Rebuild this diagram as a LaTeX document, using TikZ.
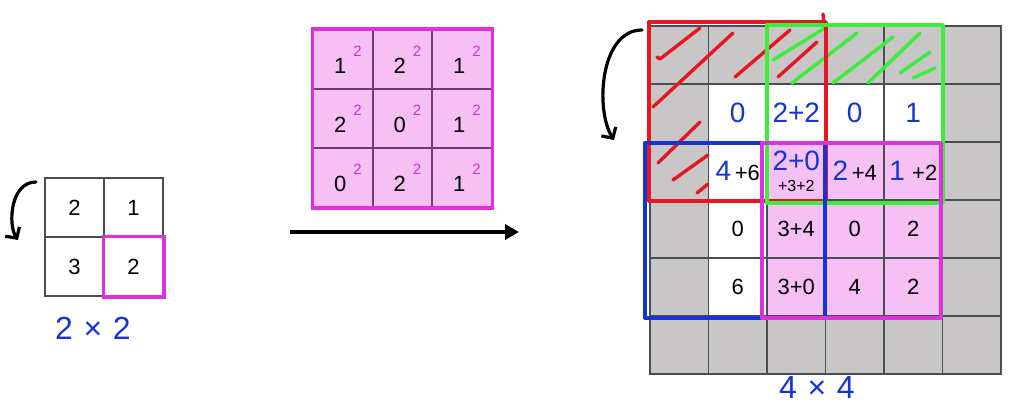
\documentclass[tikz,border=0pt]{standalone}
\usepackage{fontspec}
\setmainfont{Liberation Sans}
\usetikzlibrary{arrows.meta, positioning}
\definecolor{cellgrey}{RGB}{200,198,198}
\definecolor{gridline}{RGB}{72,78,84}
\definecolor{cellpink}{RGB}{246,192,244}
\definecolor{boxmagenta}{RGB}{222,48,222}
\definecolor{supmagenta}{RGB}{204,52,204}
\definecolor{innerpurple}{RGB}{110,60,110}
\definecolor{penred}{RGB}{230,22,34}
\definecolor{pengreen}{RGB}{60,238,60}
\definecolor{penblue}{RGB}{22,52,210}
\newcommand{\numfont}{\fontsize{22}{25}\selectfont}
\newcommand{\handfont}{\fontsize{28}{30}\selectfont}
\newcommand{\sqd}[1]{#1\hspace{7pt}\textcolor{supmagenta}{\raisebox{17pt}{\fontsize{15}{15}\selectfont 2}}}

\begin{document}
\begin{tikzpicture}[x=1pt, y=-1pt,
  >={Triangle[length=14pt, width=15pt]},
  cell/.style={draw=gridline, line width=1.6pt, inner sep=0pt,
               minimum width=58.5pt, minimum height=58pt, font=\numfont},
  kcell/.style={cell, minimum width=59pt, minimum height=59pt},
  icell/.style={cell, draw=innerpurple, fill=cellpink,
                minimum width=59.5pt, minimum height=59pt},
  num/.style={font=\numfont, inner sep=0pt},
  hand/.style={text=penblue, font=\handfont, inner sep=0pt},
  pen/.style={line width=3.4pt, line cap=round, line join=round},
  arr/.style={black, line width=3.5pt, ->},
  curv/.style={black, line width=3.2pt, line cap=round,
               -{Straight Barb[length=8pt, width=17pt]}}
]
  \useasboundingbox (0,0) rectangle (1032,412);

  % kernel 2x2
  \node[kcell] (k11) at (74.5,207.5) {2};
  \node[kcell] (k12) at (133.5,207.5) {1};
  \node[kcell] (k21) at (74.5,266.5) {3};
  \node[kcell] (k22) at (133.5,266.5) {2};
  \draw[boxmagenta, line width=3.4pt] (k22.north west) rectangle (k22.south east);
  \coordinate (kflipA) at (36,182);
  \coordinate (kflipB) at (18,240);
  \draw[curv] (kflipA) .. controls (10,182) and (8,225) .. (kflipB);
  \node[hand, font=\fontsize{32}{34}\selectfont] (kdim) at (93,328) {2\,\,×\,\,2};

  % input 3x3
  \foreach \r/\row in {0/{1,2,1},1/{2,0,1},2/{0,2,1}}
    \foreach \v [count=\c from 0] in \row
      \node[icell] (sq\r\c) at ({343+59.5*\c},{59.5+59*\r})
        {\hspace{10pt}\sqd{\v}};
  \draw[boxmagenta, line width=3.4pt] (sq00.north west) rectangle (sq22.south east);

  \coordinate (arrS) at (290,232);
  \coordinate (arrE) at (519,232);
  \draw[arr] (arrS) -- (arrE);

  % output 4x4 with padding
  \foreach \c in {0,...,5}
    \foreach \r in {0,...,5} {
      \pgfmathtruncatemacro\inner{and(and(\c>0,\c<5),and(\r>0,\r<5))}
      \pgfmathtruncatemacro\pink{and(and(\c>1,\c<5),and(\r>1,\r<5))}
      \ifnum\pink=1 \def\fc{cellpink}\else
        \ifnum\inner=1 \def\fc{white}\else \def\fc{cellgrey}\fi\fi
      \node[cell, fill=\fc] (g\c\r) at ({650+58.5*(\c+0.5)},{26+58*(\r+0.5)}) {};
    }

  \node[hand] (t11) at (g11) {0};
  \node[hand] (t21) at (g21) {2+2};
  \node[hand] (t31) at (g31) {0};
  \node[hand] (t41) at (g41) {1};
  \node[num] (t12) at (g12) {\textcolor{penblue}{\handfont 4}\,+6};
  \node[num, align=center] (t22) at (g22)
    {\textcolor{penblue}{\handfont 2+0}\\[-4pt]{\fontsize{16}{17}\selectfont +3+2}};
  \node[num] (t32) at (g32) {\textcolor{penblue}{\handfont 2}\,+4};
  \node[num] (t42) at (g42) {\textcolor{penblue}{\handfont 1}\,\,+2};
  \node[num] (t13) at (g13) {0};
  \node[num] (t23) at (g23) {3+4};
  \node[num] (t33) at (g33) {0};
  \node[num] (t43) at (g43) {2};
  \node[num] (t14) at (g14) {6};
  \node[num] (t24) at (g24) {3+0};
  \node[num] (t34) at (g34) {4};
  \node[num] (t44) at (g44) {2};

  % hatching of the padding
  \draw[pen, penred] (657,57) -- (660,59) -- (700,28);
  \draw[pen, penred] (653,107) -- (733,33);
  \draw[pen, penred] (735,77) -- (790,30);
  \draw[pen, penred] (778,77) -- (817,42);
  \draw[pen, penred] (658,163) -- (700,122);
  \draw[pen, penred] (673,180) -- (708,155);
  \draw[pen, penred] (697,193) -- (708,184);
  \draw[pen, pengreen] (773,60) -- (825,28);
  \draw[pen, pengreen] (792,83) -- (857,33);
  \draw[pen, pengreen] (833,83) -- (893,37);
  \draw[pen, pengreen] (868,83) -- (920,33);
  \draw[pen, pengreen] (900,73) -- (930,52);
  \draw[pen, pengreen] (913,78) -- (935,68);

  % window positions
  \draw[pen, penred] (649,22) rectangle (826,201);
  \draw[pen, penred] (823,14) -- (824,24);
  \draw[pen, pengreen] (767,25) rectangle (943,203);
  \draw[pen, penblue] (645,143) rectangle (825,318);
  \draw[pen, boxmagenta] (762,143) rectangle (941,318);

  \coordinate (gflipA) at (642,30);
  \coordinate (gflipB) at (614,140);
  \draw[curv] (gflipA) .. controls (600,30) and (595,110) .. (gflipB);
  \node[hand, font=\fontsize{32}{34}\selectfont] (gdim) at (817,387) {4\,\,×\,\,4};
\end{tikzpicture}
\end{document}
